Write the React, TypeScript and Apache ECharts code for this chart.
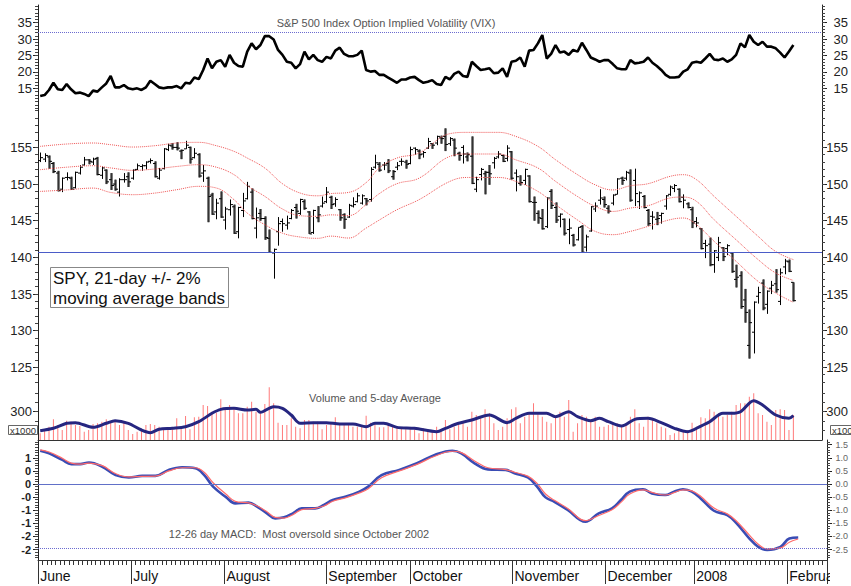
import React, { useEffect, useRef } from "react";
import * as echarts from "echarts";

const FONT = "'Liberation Sans', Arial, Helvetica, sans-serif";

// ---- x axis (trading-day slots) ----
const SLOT_COUNT = 178;
const categories: string[] = Array.from({ length: SLOT_COUNT }, (_, i) => String(i));
const monthStartIdx = [0, 21, 42, 65, 84, 107, 128, 148, 169];
const monthLabels = ["June", "July", "August", "September", "October", "November", "December", "2008", "February"];

// ---- tick labels ----
const vixTicks = [15, 20, 25, 30, 35];
const spyTicks = [125, 130, 135, 140, 145, 150, 155];
const volTicks = [300];
const macdTicksLeft = [1, 0.5, 0, -0.5, -1, -1.5, -2, -2.5];
const macdTicksRight = [1.5, 1, 0.5, 0, -0.5, -1, -1.5, -2, -2.5];

// ---- reference levels ----
const vixRefLevel = 32;
const spyRefLevel = 140.7;
const macdZero = 0;
const macdOversold = -2.44;

// ---- VIX close ----
const vix = [
  12.65, 12.96, 14.5, 16.7, 14.7, 14.5, 16.3, 14.7, 13.5, 13.7,
  13.3, 12.65, 14.3, 14.0, 15.3, 16.5, 18.75, 15.3, 15.3, 16.0,
  15.0, 14.7, 15.0, 14.5, 15.3, 17.3, 16.3, 15.3, 15.0, 15.3,
  15.3, 15.7, 15.0, 16.7, 16.5, 18.3, 17.8, 20.6, 24.1, 21.1,
  23.1, 23.6, 21.6, 25.2, 22.8, 21.8, 21.6, 26.2, 28.7, 26.9,
  28.2, 30.9, 30.9, 29.9, 26.7, 25.2, 23.1, 22.8, 21.1, 22.4,
  26.2, 23.8, 25.2, 23.6, 23.1, 24.6, 24.1, 26.5, 27.4, 25.5,
  24.8, 24.8, 25.2, 26.5, 20.6, 20.1, 20.3, 19.1, 19.1, 18.3,
  17.5, 16.7, 17.7, 17.7, 18.3, 18.5, 17.5, 16.7,
  17.0, 17.5, 16.3, 16.0, 18.5, 17.7, 19.4, 20.1, 18.75, 18.5,
  23.1, 21.8, 20.6, 20.8, 21.1, 19.6, 19.8, 21.1, 18.5, 23.1,
  23.4, 24.4, 21.6, 26.5, 26.7, 28.7, 31.25, 24.1, 25.5, 28.2,
  25.9, 26.2, 25.2, 26.7, 26.2, 28.9, 26.7, 24.4, 23.8, 23.1,
  23.6, 23.6, 22.4, 21.1, 20.8, 20.8, 23.6, 22.6, 22.8, 23.1,
  24.4, 22.8, 21.8, 20.6, 19.1, 18.3, 18.3, 18.5, 20.1, 20.8,
  22.8, 23.1, 22.8, 24.1, 25.5, 23.8, 23.6, 24.1, 23.1, 23.8,
  25.2, 28.7, 27.5, 31.25, 29.2, 28.2, 29.2, 27.7, 27.7, 27.2,
  25.9, 24.4, 26.2, 28.2,
];

// ---- SPY OHLC ----
const spyOpen = [
  153.2, 153.4, 153.7, 152.8, 151.5, 149.3, 150.9, 150.8, 149.5, 151.5, 152.6, 153.3, 153.0, 153.5, 151.2, 151.9, 150.6, 150.0, 148.9, 150.6, 151.0,
  150.8, 152.0, 152.4, 152.5, 153.1, 152.8, 150.8, 152.1, 154.7, 155.2, 155.0, 154.5, 154.8, 155.0, 153.6, 154.0, 151.5, 150.8, 148.5, 146.2, 148.0,
  145.1, 146.5, 146.9, 143.5, 146.4, 148.0, 148.9, 144.0, 146.0, 145.3, 142.6, 140.6, 143.5, 144.9, 144.4, 145.3, 146.8, 146.0, 147.6, 146.2, 143.4, 145.4, 147.0,
  147.6, 148.2, 147.3, 146.5, 145.8, 145.5, 147.0, 147.6, 147.4, 148.0, 147.9, 152.3, 152.7, 152.6, 152.8, 151.0, 152.3, 153.1, 153.0,
  152.8, 154.9, 154.5, 154.1, 154.9, 155.5, 155.6, 156.3, 156.5, 155.5, 156.0, 154.2, 155.0, 153.7, 153.8, 149.3, 151.3, 151.4, 151.6, 152.9, 153.7, 153.9, 153.5,
  154.4, 151.5, 150.1, 150.5, 151.1, 147.5, 146.0, 145.3, 144.2, 149.0, 146.8, 145.6, 145.2, 143.8, 143.0, 142.4, 144.2, 141.4, 143.6, 146.6, 147.8,
  147.9, 146.7, 147.4, 148.6, 150.8, 150.8, 151.5, 150.5, 147.6, 148.3, 146.4, 145.6, 145.2, 145.7, 147.0, 148.6, 149.4, 149.3, 148.2, 147.3,
  146.5, 144.9, 143.9, 141.9, 141.8, 139.0, 140.0, 141.3, 141.2, 140.6, 137.0, 137.5, 134.2, 128.0, 129.8, 134.7, 136.5, 133.6, 135.8, 136.4, 134.0,
  138.7, 139.4, 136.6,
];
const spyHigh = [
  154.3, 154.2, 153.9, 153.0, 151.8, 150.9, 151.6, 151.0, 151.7, 152.6, 153.7, 153.4, 153.6, 153.7, 152.4, 152.0, 151.5, 150.6, 150.8, 151.5, 151.6,
  152.0, 152.8, 152.7, 153.1, 153.5, 153.1, 152.2, 154.9, 155.5, 155.6, 155.7, 154.7, 155.9, 155.1, 154.9, 154.2, 152.6, 151.0, 148.8, 148.0, 149.0,
  146.9, 147.9, 147.2, 146.9, 148.8, 150.3, 149.4, 146.8, 146.6, 145.6, 143.8, 141.2, 145.5, 145.3, 145.7, 146.6, 147.3, 148.0, 147.9, 146.3, 146.5, 147.0, 148.3,
  149.6, 148.4, 148.2, 146.6, 146.0, 147.3, 148.2, 148.8, 148.6, 148.1, 152.3, 154.0, 153.0, 153.0, 153.4, 151.9, 153.0, 153.5, 153.3,
  155.1, 155.0, 154.7, 154.5, 156.3, 155.6, 156.6, 156.6, 157.6, 156.4, 156.2, 154.4, 155.3, 154.3, 156.5, 151.0, 152.2, 151.8, 152.6, 153.7, 154.5, 154.0, 155.3,
  154.5, 152.0, 151.2, 152.1, 151.2, 148.3, 146.4, 146.6, 148.2, 149.3, 147.5, 146.0, 145.3, 145.3, 143.2, 144.1, 144.4, 143.1, 147.0, 147.5, 149.3,
  148.3, 147.1, 148.6, 150.8, 151.0, 151.8, 152.0, 152.1, 149.0, 148.5, 146.6, 146.3, 146.2, 146.1, 148.5, 149.8, 150.0, 149.4, 148.6, 147.5,
  146.9, 145.5, 144.0, 142.4, 142.7, 141.0, 142.8, 141.4, 141.8, 140.7, 139.0, 138.1, 135.7, 132.9, 134.0, 136.0, 137.0, 135.5, 136.8, 138.4, 138.5,
  139.8, 139.7, 136.6,
];
const spyLow = [
  153.0, 153.0, 152.1, 151.5, 149.0, 148.9, 150.5, 149.2, 149.4, 151.3, 152.5, 152.7, 152.6, 151.2, 150.7, 150.0, 149.2, 149.1, 148.3, 150.2, 149.6,
  150.6, 151.9, 151.8, 152.0, 152.8, 150.9, 150.6, 152.0, 154.5, 154.7, 154.6, 153.4, 154.8, 152.8, 153.5, 150.9, 150.3, 144.8, 145.8, 145.2, 145.4,
  143.8, 145.7, 143.2, 142.6, 145.5, 147.9, 145.2, 142.6, 145.0, 142.4, 140.6, 137.1, 141.6, 143.5, 143.8, 145.2, 145.3, 145.8, 146.5, 143.2, 143.2, 144.8, 146.8,
  147.4, 146.6, 146.9, 145.0, 143.9, 145.4, 146.8, 147.5, 147.2, 147.1, 147.6, 152.1, 151.7, 151.9, 151.5, 150.6, 151.9, 152.5, 152.1,
  152.7, 154.0, 153.4, 153.6, 154.8, 154.8, 155.3, 155.5, 154.5, 155.2, 153.8, 153.2, 152.8, 153.1, 150.0, 148.9, 150.5, 148.6, 149.9, 152.1, 153.5, 153.0, 153.1,
  150.6, 149.0, 149.8, 149.9, 147.5, 145.0, 144.6, 143.8, 144.0, 146.6, 144.7, 144.1, 143.0, 141.8, 141.5, 142.3, 140.6, 140.8, 143.5, 146.2, 147.2,
  146.8, 146.0, 147.1, 148.6, 149.9, 150.5, 147.6, 147.0, 146.6, 146.7, 144.3, 143.8, 144.4, 144.6, 146.5, 148.4, 148.9, 147.5, 146.7, 146.7,
  144.0, 144.1, 141.1, 139.9, 138.8, 137.9, 139.5, 139.5, 140.3, 137.9, 135.9, 133.0, 131.1, 126.2, 126.9, 133.7, 132.8, 132.3, 135.0, 135.2, 133.5,
  137.7, 138.0, 134.0,
];
const spyClose = [
  153.6, 153.9, 153.1, 151.7, 149.1, 150.8, 150.9, 149.3, 151.6, 152.3, 153.3, 153.1, 153.4, 151.3, 152.2, 150.3, 149.8, 149.3, 150.6, 150.6, 150.3,
  151.9, 152.5, 152.5, 153.0, 153.2, 151.0, 151.9, 154.8, 155.3, 155.0, 154.9, 154.6, 155.3, 153.4, 154.2, 151.1, 151.8, 148.3, 145.9, 147.4, 145.5,
  146.6, 147.2, 143.3, 146.8, 147.7, 149.7, 145.3, 145.4, 145.3, 142.7, 140.7, 141.1, 144.6, 144.6, 144.7, 146.4, 146.3, 147.9, 146.7, 143.2, 146.4, 145.8, 147.4,
  148.9, 147.2, 147.9, 145.4, 145.2, 147.1, 147.2, 148.4, 148.4, 147.7, 152.0, 152.9, 151.9, 152.6, 151.8, 151.7, 152.5, 153.1, 152.7,
  154.7, 154.7, 154.0, 154.3, 155.8, 155.3, 156.5, 156.2, 155.4, 156.2, 154.9, 153.9, 154.1, 154.0, 150.1, 150.6, 152.0, 151.6, 151.4, 153.5, 154.1, 153.1, 154.9,
  150.8, 151.0, 150.2, 152.0, 147.6, 147.5, 145.4, 143.9, 148.1, 147.1, 145.1, 145.9, 143.3, 144.0, 141.7, 144.1, 140.7, 142.8, 146.9, 147.0, 148.1,
  147.2, 146.3, 148.5, 150.7, 150.5, 151.6, 147.8, 148.7, 148.8, 146.8, 144.6, 145.5, 145.3, 146.0, 148.4, 149.6, 149.8, 147.6, 147.8, 146.8,
  144.7, 144.7, 141.2, 141.6, 139.0, 140.9, 142.0, 140.1, 141.6, 138.1, 137.3, 133.3, 132.5, 131.1, 133.9, 135.2, 133.1, 135.4, 136.2, 135.6, 137.9,
  139.5, 138.1, 134.1,
];

// ---- 21-day moving average bands (read at sample days) ----
const bandIdx = [0, 6, 12, 16, 21, 26, 31, 36, 40, 44, 47, 51, 55, 59, 63, 66, 70, 74, 77, 81, 86, 93, 97, 104, 108, 113, 117, 122, 126, 130, 134, 138, 143, 146, 149, 153, 158, 163, 167, 171];
const bandUpper = [155.14, 155.46, 155.6, 155.37, 155.05, 155.23, 155.6, 155.69, 155.23, 154.46, 153.55, 152.18, 150.05, 148.78, 148.4, 148.7, 148.86, 150.2, 152.2, 153.55, 154.23, 156.87, 157.05, 157.05, 156.5, 155.14, 153.32, 151.28, 149.9, 149.2, 149.77, 150.05, 151.05, 151.28, 150.6, 148.32, 145.6, 142.87, 140.8, 139.7];
const bandMid = [151.96, 152.3, 152.5, 152.2, 151.87, 152.05, 152.4, 152.64, 152.3, 151.28, 149.78, 148.32, 146.6, 145.69, 145.6, 145.8, 145.7, 147.2, 148.7, 150.05, 150.8, 153.77, 154.1, 154.1, 153.3, 152.19, 150.37, 148.3, 146.96, 146.27, 146.73, 147.05, 148.1, 148.23, 147.64, 145.14, 142.4, 139.7, 137.87, 136.86];
const bandLower = [149.0, 149.2, 149.45, 148.86, 148.55, 148.77, 149.23, 149.69, 149.46, 147.87, 146.05, 144.46, 143.3, 142.78, 142.6, 142.9, 142.64, 144.0, 145.1, 146.5, 147.87, 150.36, 150.9, 150.9, 150.36, 149.0, 147.2, 145.1, 143.55, 143.1, 143.55, 144.23, 145.14, 145.37, 144.46, 142.2, 139.46, 136.73, 135.14, 133.87];

// ---- Volume ----
const volume = [
  71, 113, 141, 219, 159, 106, 205, 194, 159, 148,
  88, 106, 170, 177, 194, 219, 194, 205, 159, 184,
  106, 64, 88, 106, 159, 170, 159, 141, 124, 106,
  124, 230, 141, 254, 113, 240, 247, 371, 360, 300,
  290, 431, 336, 371, 336, 283, 283, 353, 406, 300,
  283, 382, 558, 389, 184, 159, 159, 230, 141, 124,
  212, 212, 194, 194, 113, 159, 177, 240, 177, 159,
  159, 141, 141, 141, 258, 184, 177, 134, 134, 177,
  141, 124, 124, 113, 124, 113, 71, 124,
  106, 88, 141, 88, 212, 113, 141, 159, 194, 141,
  300, 265, 230, 325, 283, 177, 106, 141, 230, 325,
  346, 177, 247, 283, 389, 283, 247, 194, 177, 247,
  300, 247, 424, 88, 177, 265, 247, 194, 247, 141,
  141, 159, 194, 177, 141, 159, 247, 325, 177, 141,
  247, 212, 177, 141, 124, 53, 71, 106, 88, 106,
  184, 141, 240, 230, 325, 300, 283, 247, 265, 300,
  371, 389, 389, 459, 495, 283, 265, 194, 159, 318,
  325, 318, 106, 265,
];
const volAvgIdx = [0, 3, 6, 8, 12, 15, 17, 20, 23, 25, 27, 30, 33, 36, 39, 41, 44, 47, 49, 50, 53, 55, 57, 59, 62, 65, 68, 71, 74, 76, 78, 81, 85, 90, 92, 95, 98, 102, 106, 108, 111, 115, 117, 120, 122, 125, 127, 129, 132, 135, 138, 141, 144, 147, 150, 152, 155, 157, 159, 162, 164, 167, 170, 171];
const volAvg = [99, 124, 177, 184, 134, 177, 205, 177, 106, 78, 113, 124, 141, 194, 283, 325, 336, 318, 325, 293, 353, 336, 265, 177, 184, 184, 170, 170, 141, 177, 177, 134, 124, 88, 124, 177, 212, 265, 184, 230, 283, 283, 247, 300, 247, 205, 230, 194, 148, 219, 230, 184, 124, 88, 148, 194, 283, 283, 300, 417, 371, 265, 230, 258];

// ---- MACD (12-26) and signal ----
const macdIdx = [0, 2, 5, 7, 9, 11, 14, 17, 20, 23, 26, 29, 32, 35, 37, 39, 42, 44, 47, 49, 51, 53, 55, 57, 59, 62, 64, 66, 69, 72, 74, 77, 81, 85, 89, 93, 95, 98, 101, 105, 107, 110, 112, 114, 116, 119, 123, 126, 129, 131, 133, 136, 138, 141, 143, 145, 147, 149, 152, 155, 157, 160, 162, 164, 167, 169, 171];
const macdLine = [1.27, 1.17, 0.92, 0.76, 0.76, 0.82, 0.66, 0.34, 0.25, 0.31, 0.31, 0.54, 0.64, 0.60, 0.34, -0.10, -0.51, -0.74, -0.71, -0.87, -1.10, -1.31, -1.27, -1.12, -0.93, -0.93, -0.80, -0.61, -0.48, -0.29, -0.10, 0.34, 0.54, 0.79, 1.11, 1.27, 1.17, 0.79, 0.56, 0.54, 0.41, 0.25, -0.08, -0.51, -0.68, -0.99, -1.44, -1.12, -0.93, -0.61, -0.29, -0.20, -0.36, -0.42, -0.29, -0.20, -0.29, -0.55, -1.02, -1.19, -1.48, -2.08, -2.40, -2.52, -2.40, -2.08, -2.04];
const macdSignal = [1.30, 1.22, 0.98, 0.80, 0.76, 0.80, 0.70, 0.40, 0.27, 0.29, 0.30, 0.50, 0.62, 0.62, 0.45, 0.05, -0.40, -0.66, -0.72, -0.84, -1.04, -1.27, -1.30, -1.17, -0.98, -0.93, -0.84, -0.66, -0.52, -0.34, -0.18, 0.24, 0.50, 0.75, 1.06, 1.25, 1.20, 0.88, 0.62, 0.55, 0.45, 0.30, 0.04, -0.38, -0.62, -0.93, -1.40, -1.20, -0.98, -0.70, -0.38, -0.22, -0.32, -0.42, -0.33, -0.22, -0.26, -0.47, -0.92, -1.14, -1.40, -1.95, -2.30, -2.48, -2.44, -2.22, -2.10];

// helper: tick positions
function steps(from: number, to: number, step: number): number[] {
  const out: number[] = [];
  const n = Math.round((to - from) / step);
  for (let k = 0; k <= n; k++) out.push(Math.round((from + k * step) * 1000) / 1000);
  return out;
}

const AXIS_COLOR = "#222";

function yAxes(
  gridIndex: number,
  min: number,
  max: number,
  leftVals: number[],
  rightVals: number[],
  minorVals: number[],
  leftFmt: (v: number) => string,
  rightFmt: (v: number) => string,
  leftLabel: any,
  rightLabel: any
) {
  const base = { type: "value", gridIndex, min, max, splitLine: { show: false } };
  return [
    {
      ...base,
      position: "left",
      axisLine: { show: true, onZero: false, lineStyle: { color: AXIS_COLOR, width: 1 } },
      axisTick: { show: true, length: 5, customValues: leftVals, lineStyle: { color: AXIS_COLOR } },
      axisLabel: { show: true, customValues: leftVals, formatter: leftFmt, fontFamily: FONT, ...leftLabel },
    },
    {
      ...base,
      position: "left",
      axisLine: { show: false, onZero: false },
      axisTick: { show: true, length: 3, customValues: minorVals, lineStyle: { color: "#444" } },
      axisLabel: { show: false },
    },
    {
      ...base,
      position: "right",
      axisLine: { show: true, onZero: false, lineStyle: { color: AXIS_COLOR, width: 1 } },
      axisTick: { show: true, length: 5, customValues: rightVals, lineStyle: { color: AXIS_COLOR } },
      axisLabel: { show: true, customValues: rightVals, formatter: rightFmt, fontFamily: FONT, ...rightLabel },
    },
    {
      ...base,
      position: "right",
      axisLine: { show: false, onZero: false },
      axisTick: { show: true, length: 3, customValues: minorVals, lineStyle: { color: "#444" } },
      axisLabel: { show: false },
    },
  ];
}

export default function App() {
  const ref = useRef<HTMLDivElement>(null);

  useEffect(() => {
    if (!ref.current) return;
    const chart = echarts.init(ref.current, undefined, { renderer: "svg" });

    const plain = (v: number) => String(v);
    const mainLeft = { fontSize: 13, color: "#222", margin: 6 };
    const mainRight = { fontSize: 13, color: "#222", margin: 26, align: "right" };

    const spyData = spyClose.map((c, i) => [i, spyOpen[i], spyHigh[i], spyLow[i], c]);
    const pairs = (idx: number[], vals: number[]) => idx.map((x, k) => [x, vals[k]]);

    const isMonthStart = (i: number) => monthStartIdx.indexOf(i) >= 0;

    const baseX = (gridIndex: number) => ({
      type: "category",
      gridIndex,
      position: "bottom",
      data: categories,
      boundaryGap: true,
      show: false,
      axisLine: { onZero: false },
    });

    const option: any = {
      animation: false,
      backgroundColor: "#ffffff",
      textStyle: { fontFamily: FONT },
      grid: [
        { left: 38, right: 23, top: 5, height: 105 },
        { left: 38, right: 23, top: 110, height: 275 },
        { left: 38, right: 23, top: 385, height: 55 },
        { left: 38, right: 23, top: 440, height: 120 },
      ],
      xAxis: [
        baseX(0),
        baseX(1),
        {
          ...baseX(2),
          show: true,
          axisLine: { show: true, onZero: false, lineStyle: { color: "#333" } },
          axisTick: { show: false },
          axisLabel: { show: false },
        },
        {
          ...baseX(3),
          show: true,
          axisLine: { show: true, onZero: false, lineStyle: { color: "#333" } },
          axisTick: { show: true, interval: 0, length: 5, lineStyle: { color: "#333" } },
          axisLabel: { show: false },
        },
        {
          ...baseX(3),
          show: true,
          offset: 0,
          axisLine: { show: false, onZero: false },
          axisTick: {
            show: true,
            interval: (i: number) => isMonthStart(i),
            length: 24,
            lineStyle: { color: "#333" },
          },
          axisLabel: {
            show: true,
            interval: (i: number) => isMonthStart(i),
            formatter: (v: string) => monthLabels[monthStartIdx.indexOf(Number(v))] || "",
            align: "left",
            fontSize: 14,
            color: "#111",
            margin: 9,
            fontFamily: FONT,
          },
        },
      ],
      yAxis: [
        ...yAxes(0, 8.4, 40.4, vixTicks, vixTicks, steps(9, 40, 1), plain, plain, mainLeft, mainRight),
        ...yAxes(1, 122.6, 160.1, spyTicks, spyTicks, steps(123, 160, 1), plain, plain, mainLeft, mainRight),
        ...yAxes(2, 0, 583, volTicks, volTicks, steps(100, 500, 100), plain, plain, mainLeft, mainRight),
        ...yAxes(
          3,
          -2.9,
          1.68,
          macdTicksLeft,
          macdTicksRight,
          steps(-2.8, 1.6, 0.1),
          (v: number) => (v < 0 ? "-" : "") + String(Math.floor(Math.abs(v))),
          (v: number) => v.toFixed(1),
          { fontSize: 11, fontWeight: "bold", color: "#222", margin: 7 },
          { fontSize: 9, color: "#666", margin: 21, align: "right" }
        ),
      ],
      series: [
        {
          name: "VIX",
          type: "line",
          xAxisIndex: 0,
          yAxisIndex: 0,
          data: vix,
          symbol: "none",
          lineStyle: { color: "#000", width: 2.6 },
          markLine: {
            silent: true,
            symbol: "none",
            label: { show: false },
            lineStyle: { type: "dotted", color: "#6c6cd0", width: 1 },
            data: [{ yAxis: vixRefLevel }],
          },
        },
        {
          name: "Upper band",
          type: "line",
          xAxisIndex: 1,
          yAxisIndex: 4,
          data: pairs(bandIdx, bandUpper),
          smooth: 0.4,
          symbol: "none",
          lineStyle: { type: "dotted", color: "#ee5555", width: 1 },
          markLine: {
            silent: true,
            symbol: "none",
            label: { show: false },
            lineStyle: { type: "solid", color: "#4b5cc8", width: 1 },
            data: [{ yAxis: spyRefLevel }],
          },
        },
        {
          name: "21-day MA",
          type: "line",
          xAxisIndex: 1,
          yAxisIndex: 4,
          data: pairs(bandIdx, bandMid),
          smooth: 0.4,
          symbol: "none",
          lineStyle: { type: "dotted", color: "#ee5555", width: 1 },
        },
        {
          name: "Lower band",
          type: "line",
          xAxisIndex: 1,
          yAxisIndex: 4,
          data: pairs(bandIdx, bandLower),
          smooth: 0.4,
          symbol: "none",
          lineStyle: { type: "dotted", color: "#ee5555", width: 1 },
        },
        {
          name: "SPY",
          type: "custom",
          xAxisIndex: 1,
          yAxisIndex: 4,
          data: spyData,
          encode: { x: 0, y: [1, 2, 3, 4] },
          renderItem: (params: any, api: any) => {
            const i = api.value(0);
            const o = api.value(1);
            const h = api.value(2);
            const l = api.value(3);
            const c = api.value(4);
            const pH = api.coord([i, h]);
            const pL = api.coord([i, l]);
            const pO = api.coord([i, o]);
            const pC = api.coord([i, c]);
            const down = i > 0 && c < spyClose[i - 1];
            const x = Math.round(pH[0]) + 0.5;
            const children: any[] = [];
            if (down) {
              children.push({
                type: "rect",
                shape: { x: x - 1.5, y: pH[1], width: 3, height: Math.max(1, pL[1] - pH[1]) },
                style: { fill: "#7d7d7d" },
              });
            }
            children.push({
              type: "line",
              shape: { x1: x, y1: pH[1], x2: x, y2: pL[1] },
              style: { stroke: down ? "#333" : "#000", lineWidth: 1 },
            });
            children.push({
              type: "line",
              shape: { x1: x - 2.5, y1: pO[1], x2: x, y2: pO[1] },
              style: { stroke: "#000", lineWidth: 1 },
            });
            children.push({
              type: "line",
              shape: { x1: x, y1: pC[1], x2: x + 2.5, y2: pC[1] },
              style: { stroke: "#000", lineWidth: 1 },
            });
            return { type: "group", children };
          },
        },
        {
          name: "Volume",
          type: "bar",
          xAxisIndex: 2,
          yAxisIndex: 8,
          data: volume,
          barWidth: 1,
          itemStyle: { color: "#ff7a7a" },
        },
        {
          name: "Volume 5-day average",
          type: "line",
          xAxisIndex: 2,
          yAxisIndex: 8,
          data: pairs(volAvgIdx, volAvg),
          smooth: 0.3,
          symbol: "none",
          lineStyle: { color: "#262680", width: 3 },
        },
        {
          name: "MACD",
          type: "line",
          xAxisIndex: 3,
          yAxisIndex: 12,
          data: pairs(macdIdx, macdLine),
          smooth: 0.4,
          symbol: "none",
          lineStyle: { color: "#3a4cb4", width: 2.6 },
          markLine: {
            silent: true,
            symbol: "none",
            label: { show: false },
            data: [
              { yAxis: macdZero, lineStyle: { type: "solid", color: "#6170c8", width: 1 } },
              { yAxis: macdOversold, lineStyle: { type: "dotted", color: "#6c6cd0", width: 1 } },
            ],
          },
        },
        {
          name: "Signal",
          type: "line",
          xAxisIndex: 3,
          yAxisIndex: 12,
          data: pairs(macdIdx, macdSignal),
          smooth: 0.4,
          symbol: "none",
          lineStyle: { color: "#ff6b6b", width: 1.2 },
        },
      ],
      graphic: [
        {
          type: "text",
          x: 386,
          y: 23,
          style: {
            text: "S&P 500 Index Option Implied Volatility (VIX)",
            fill: "#555",
            font: `11px ${FONT}`,
            textAlign: "center",
            textVerticalAlign: "middle",
          },
        },
        {
          type: "text",
          x: 375,
          y: 398,
          style: {
            text: "Volume and 5-day Average",
            fill: "#555",
            font: `11px ${FONT}`,
            textAlign: "center",
            textVerticalAlign: "middle",
          },
        },
        {
          type: "text",
          x: 299,
          y: 534,
          style: {
            text: "12-26 day MACD:  Most oversold since October 2002",
            fill: "#555",
            font: `11px ${FONT}`,
            textAlign: "center",
            textVerticalAlign: "middle",
          },
        },
        {
          type: "rect",
          shape: { x: 50.5, y: 267.5, width: 178, height: 40 },
          style: { fill: "#fff", stroke: "#888", lineWidth: 1 },
          z: 50,
        },
        {
          type: "text",
          x: 53,
          y: 278,
          z: 51,
          style: {
            text: "SPY, 21-day +/- 2%",
            fill: "#111",
            font: `17px ${FONT}`,
            textAlign: "left",
            textVerticalAlign: "middle",
          },
        },
        {
          type: "text",
          x: 53,
          y: 298,
          z: 51,
          style: {
            text: "moving average bands",
            fill: "#111",
            font: `17px ${FONT}`,
            textAlign: "left",
            textVerticalAlign: "middle",
          },
        },
        {
          type: "rect",
          shape: { x: 8.5, y: 425.5, width: 29, height: 9 },
          style: { fill: "#fff", stroke: "#666", lineWidth: 1 },
          z: 50,
        },
        {
          type: "text",
          x: 23,
          y: 430,
          z: 51,
          style: { text: "x1000", fill: "#333", font: `9.5px ${FONT}`, textAlign: "center", textVerticalAlign: "middle" },
        },
        {
          type: "rect",
          shape: { x: 830.5, y: 425.5, width: 30, height: 9 },
          style: { fill: "#fff", stroke: "#666", lineWidth: 1 },
          z: 50,
        },
        {
          type: "text",
          x: 832,
          y: 430,
          z: 51,
          style: { text: "x1000", fill: "#333", font: `9.5px ${FONT}`, textAlign: "left", textVerticalAlign: "middle" },
        },
        {
          type: "rect",
          shape: { x: 830, y: 566, width: 30, height: 20 },
          style: { fill: "#fff" },
          z: 100,
        },
      ],
    };

    chart.setOption(option);
    return () => chart.dispose();
  }, []);

  return (
    <div
      ref={ref}
      style={{ position: "fixed", left: 0, top: 0, width: 851, height: 586, background: "#fff" }}
    />
  );
}
